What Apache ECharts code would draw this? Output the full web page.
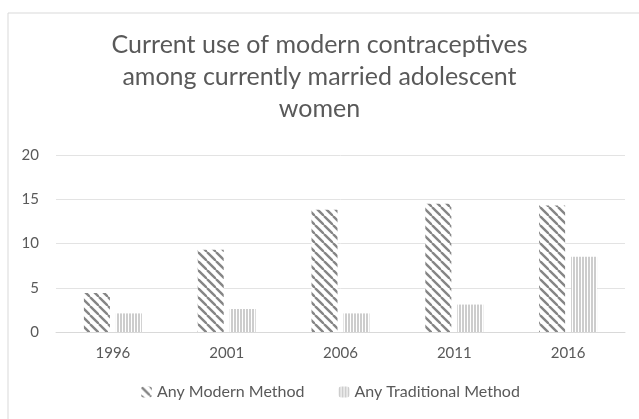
<!DOCTYPE html>
<html>
<head>
<meta charset="utf-8">
<script src="https://cdn.jsdelivr.net/npm/echarts@6/dist/echarts.min.js"></script>
<style>
  html, body { margin: 0; padding: 0; background: #fff; }
  #chart { width: 639px; height: 419px; }
</style>
</head>
<body>
<div id="chart"></div>
<script>
var years = ['1996', '2001', '2006', '2011', '2016'];
var modernMethod = [4.4, 9.3, 13.8, 14.5, 14.3];
var traditionalMethod = [2.1, 2.6, 2.1, 3.1, 8.5];
var yTicks = { min: 0, max: 20, interval: 5 };

// hatch patterns like the spreadsheet fills
function diagonalPattern() {
    var s = 9;
    var c = document.createElement('canvas');
    c.width = s; c.height = s;
    var ctx = c.getContext('2d');
    ctx.fillStyle = '#fff';
    ctx.fillRect(0, 0, s, s);
    ctx.strokeStyle = '#858585';
    ctx.lineWidth = 2.4;
    [-s, 0, s].forEach(function(x0) {
        ctx.beginPath();
        ctx.moveTo(x0, 0);
        ctx.lineTo(x0 + s, s);
        ctx.stroke();
    });
    return c;
}

function verticalPattern() {
    var c = document.createElement('canvas');
    c.width = 3; c.height = 4;
    var ctx = c.getContext('2d');
    ctx.fillStyle = '#fff';
    ctx.fillRect(0, 0, 3, 4);
    ctx.fillStyle = '#cdcdcd';
    ctx.fillRect(0, 0, 2, 4);
    return c;
}

var chart = echarts.init(document.getElementById('chart'));
var font = 'Lato, "Open Sans", sans-serif';

chart.setOption({
    animation: false,
    title: {
        text: 'Current use of modern contraceptives\namong currently married adolescent\nwomen',
        left: 'center',
        top: 24,
        textStyle: {
            fontFamily: font,
            fontWeight: 'normal',
            fontSize: 25,
            lineHeight: 32,
            color: '#595959'
        }
    },
    graphic: [{
        type: 'rect',
        shape: { x: 8, y: 13, width: 640, height: 420 },
        style: { fill: 'none', stroke: '#d9d9d9', lineWidth: 1 },
        silent: true
    }],
    legend: {
        bottom: 14,
        left: 136,
        itemWidth: 11,
        itemHeight: 11,
        itemGap: 34,
        textStyle: { fontFamily: font, fontSize: 16, color: '#595959' },
        data: ['Any Modern Method', 'Any Traditional Method']
    },
    grid: { left: 56, right: 14, top: 155, bottom: 87 },
    xAxis: {
        type: 'category',
        data: years,
        axisLine: { lineStyle: { color: '#d9d9d9' } },
        axisTick: { show: false },
        axisLabel: { fontFamily: font, fontSize: 15, color: '#595959', margin: 14 }
    },
    yAxis: {
        type: 'value',
        min: yTicks.min,
        max: yTicks.max,
        interval: yTicks.interval,
        axisLine: { show: false },
        axisTick: { show: false },
        axisLabel: { fontFamily: font, fontSize: 15, color: '#595959', margin: 17 },
        splitLine: { lineStyle: { color: '#e3e3e3' } }
    },
    series: [{
        name: 'Any Modern Method',
        type: 'bar',
        barWidth: 26,
        barGap: '23%',
        itemStyle: { color: { image: diagonalPattern(), repeat: 'repeat' } },
        data: modernMethod
    }, {
        name: 'Any Traditional Method',
        type: 'bar',
        barWidth: 26,
        itemStyle: { color: { image: verticalPattern(), repeat: 'repeat' } },
        data: traditionalMethod
    }]
});
</script>
</body>
</html>
